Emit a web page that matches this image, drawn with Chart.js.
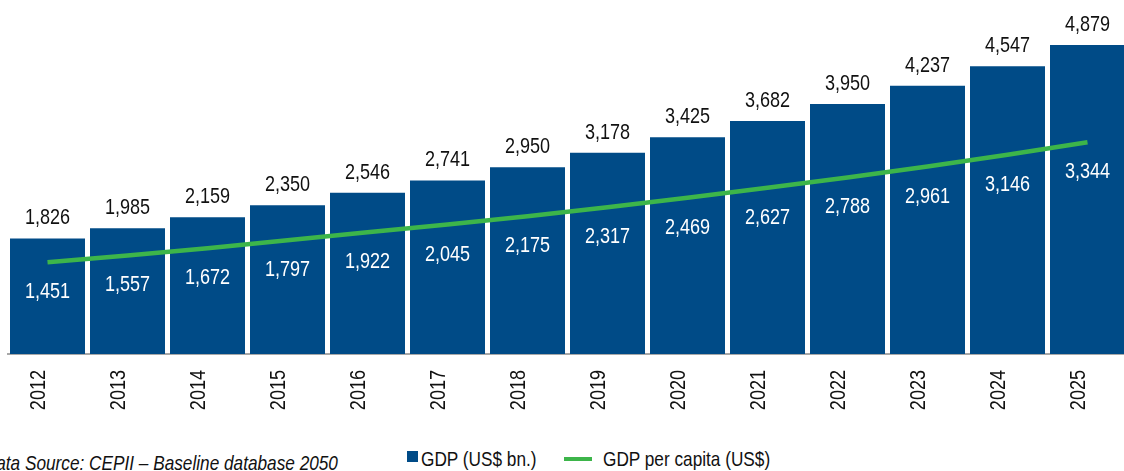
<!DOCTYPE html>
<html>
<head>
<meta charset="utf-8">
<script src="https://cdn.jsdelivr.net/npm/chart.js@4/dist/chart.umd.min.js"></script>
<style>
  html, body { margin: 0; padding: 0; width: 1124px; height: 471px; overflow: hidden; background: #fff; }
  #wrap { position: absolute; left: 0; top: 0; width: 1140px; height: 420px; }
  .txt { position: absolute; font-family: 'Liberation Sans', Arial, sans-serif; font-size: 21px; color: #111111; white-space: nowrap; line-height: 1; }
  #source { right: 786px; top: 452px; font-style: italic; transform: scaleX(0.82); transform-origin: right top; }
  #legSq { position: absolute; left: 407px; top: 451px; width: 11px; height: 11px; background: #004B87; }
  #legLine { position: absolute; left: 564px; top: 457px; width: 28px; height: 4px; background: #3DB54A; }
  #leg1 { left: 421px; top: 448px; transform: scaleX(0.82); transform-origin: left top; }
  #leg2 { left: 603px; top: 448px; transform: scaleX(0.82); transform-origin: left top; }
</style>
</head>
<body>
<div id="wrap"><canvas id="c" width="1140" height="420"></canvas></div>
<div class="txt" id="source">Data Source: CEPII – Baseline database 2050</div>
<div id="legSq"></div><div class="txt" id="leg1">GDP (US$ bn.)</div>
<div id="legLine"></div><div class="txt" id="leg2">GDP per capita (US$)</div>
<script>
const years = ['2012','2013','2014','2015','2016','2017','2018','2019','2020','2021','2022','2023','2024','2025'];
const gdp = [1826, 1985, 2159, 2350, 2546, 2741, 2950, 3178, 3425, 3682, 3950, 4237, 4547, 4879];
const gdpPerCapita = [1451, 1557, 1672, 1797, 1922, 2045, 2175, 2317, 2469, 2627, 2788, 2961, 3146, 3344];

const FONT = "'Liberation Sans', Arial, sans-serif";
const NARROW = 0.82;
const fmt = v => v.toLocaleString('en-US');

function narrowText(ctx, text, x, y, rot) {
  ctx.save();
  ctx.translate(x, y);
  if (rot) ctx.rotate(rot);
  ctx.scale(NARROW, 1);
  ctx.fillText(text, 0, 0);
  ctx.restore();
}

const labelPlugin = {
  id: 'valueLabels',
  afterDatasetsDraw(chart) {
    const ctx = chart.ctx;
    ctx.save();
    ctx.font = '22px ' + FONT;
    ctx.textAlign = 'center';
    ctx.textBaseline = 'alphabetic';
    const barMeta = chart.getDatasetMeta(1);
    barMeta.data.forEach((el, i) => {
      ctx.fillStyle = '#111111';
      narrowText(ctx, fmt(gdp[i]), el.x, el.y - 14);
    });
    const lineMeta = chart.getDatasetMeta(0);
    lineMeta.data.forEach((el, i) => {
      ctx.fillStyle = '#ffffff';
      narrowText(ctx, fmt(gdpPerCapita[i]), el.x, el.y + 36);
    });
    // category axis labels (rotated, condensed)
    const xs = chart.scales.x;
    ctx.fillStyle = '#111111';
    ctx.textAlign = 'right';
    xs.ticks.forEach((t, i) => {
      const px = xs.getPixelForTick(i);
      narrowText(ctx, xs.getLabelForValue(t.value), px - 2.5, xs.top + 16, -Math.PI / 2);
    });
    ctx.restore();
  }
};

new Chart(document.getElementById('c'), {
  data: {
    labels: years,
    datasets: [
      {
        type: 'line',
        label: 'GDP per capita (US$)',
        data: gdpPerCapita,
        borderColor: '#3DB54A',
        backgroundColor: '#3DB54A',
        borderWidth: 4.5,
        pointRadius: 0,
        tension: 0,
        order: 0
      },
      {
        type: 'bar',
        label: 'GDP (US$ bn.)',
        data: gdp,
        backgroundColor: '#004B87',
        categoryPercentage: 1,
        barPercentage: 0.9375,
        order: 1
      }
    ]
  },
  options: {
    responsive: false,
    animation: false,
    events: [],
    layout: { padding: { left: 7.5, right: 12.5, top: 5.8, bottom: 6 } },
    plugins: { legend: { display: false }, tooltip: { enabled: false } },
    scales: {
      x: {
        grid: { display: false, drawTicks: false },
        border: { display: true, color: '#a8a8a8', width: 2 },
        ticks: { display: false, autoSkip: false },
        afterFit(scale) { scale.height = 60; }
      },
      y: {
        display: false,
        min: 0,
        max: 5500
      }
    }
  },
  plugins: [labelPlugin]
});
</script>
</body>
</html>
